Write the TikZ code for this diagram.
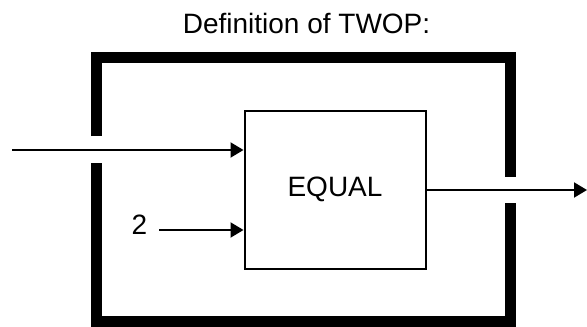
\documentclass[tikz,border=0pt]{standalone}
\usepackage{fontspec}
\setmainfont{Liberation Sans}
\usetikzlibrary{arrows.meta}
\begin{document}
\begin{tikzpicture}[x=1pt,y=-1pt,
  frame/.style={line width=11pt,line join=miter,line cap=butt},
  blockbox/.style={draw,line width=2pt,minimum width=181pt,minimum height=158pt,inner sep=0pt},
  arr/.style={line width=2pt,-{Triangle[length=13pt,width=15pt]}},
  lbl/.style={font=\fontsize{28}{32}\selectfont,inner sep=0pt}]
\useasboundingbox (0,0) rectangle (587,327);
\node[lbl,anchor=base] (title) at (306.5,33) {Definition of TWOP:};
\draw[frame] (96.5,136) -- (96.5,57.5) -- (510,57.5) -- (510,176.5);
\draw[frame] (96.5,163) -- (96.5,321.5) -- (510,321.5) -- (510,203);
\node[blockbox,lbl] (box) at (335,189.5) {EQUAL};
\coordinate (in) at (12,150);
\coordinate (twostart) at (159,230);
\coordinate (out) at (587,190);
\node[lbl,anchor=base] (two) at (139.5,234) {2};
\draw[arr] (in) -- (box.west |- in);
\draw[arr] (twostart) -- (box.west |- twostart);
\draw[arr] (box.east |- out) -- (out);
\end{tikzpicture}
\end{document}
